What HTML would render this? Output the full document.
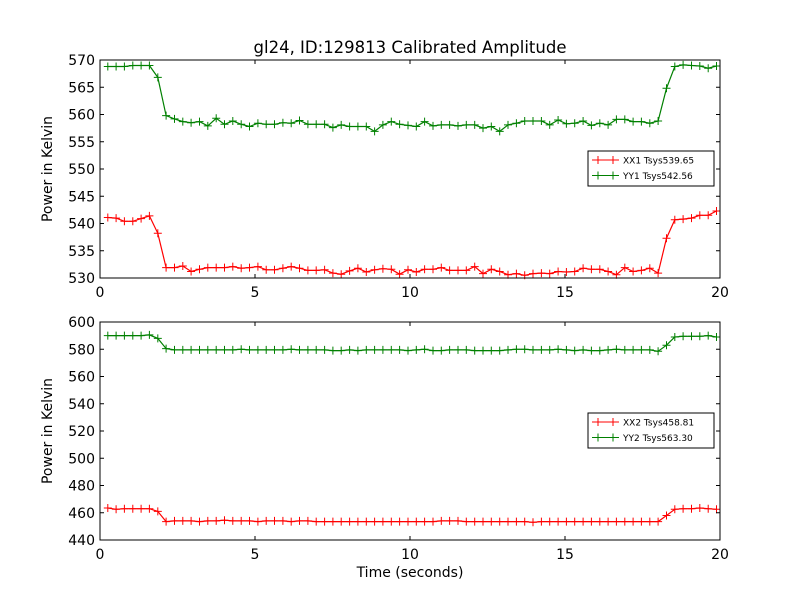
<!DOCTYPE html>
<html><head><meta charset="utf-8"><style>
html,body{margin:0;padding:0;background:#fff;}
svg{display:block;font-family:"DejaVu Sans","Liberation Sans",sans-serif;}
</style></head><body>
<svg id="chart" width="800" height="600" viewBox="0 0 800 600">
<rect x="0" y="0" width="800" height="600" fill="#fff"/>
<text x="410" y="53" text-anchor="middle" font-size="16.5">gl24, ID:129813 Calibrated Amplitude</text>
<g id="top"></g>
<g id="bot"></g>
<text x="410" y="577" text-anchor="middle" font-size="14">Time (seconds)</text>
</svg>
<script>
const xx1 = [541.1,541.0,540.4,540.4,540.9,541.4,538.2,531.9,531.9,532.2,531.2,531.6,531.9,531.9,531.9,532.1,531.8,531.9,532.1,531.5,531.5,531.8,532.1,531.8,531.4,531.4,531.5,530.9,530.7,531.3,531.8,531.1,531.5,531.7,531.6,530.7,
531.5,531.1,531.6,531.6,531.9,531.4,531.4,531.4,532.1,530.8,531.6,531.2,530.6,530.8,530.5,530.8,530.9,530.8,531.2,531.1,531.2,531.8,531.6,531.6,531.2,530.6,531.9,531.2,531.4,531.8,530.9,537.3,540.7,540.8,541.0,541.5,541.5,542.3];
const yy1 = [568.8,568.8,568.8,569.0,569.0,569.0,566.8,559.8,559.2,558.7,558.5,558.7,557.9,559.3,558.2,558.8,558.2,557.8,558.4,558.2,558.2,558.5,558.4,558.9,558.2,558.2,558.2,557.6,558.1,557.8,557.8,557.8,556.9,558.1,558.7,558.2,
558.0,557.8,558.7,557.9,558.1,558.1,557.9,558.1,558.1,557.5,557.8,556.9,558.1,558.4,558.8,558.8,558.8,558.1,559.0,558.3,558.4,558.8,558.0,558.4,558.1,559.1,559.1,558.7,558.7,558.4,558.8,564.8,568.8,569.1,569.0,568.9,568.5,568.9];
const xx2 = [463.5,462.5,463,463,463,463,461,453.5,454,454,454,453.5,454,454,454.5,454,454,454,453.5,454,454,454,453.5,454,454,453.5,453.5,453.5,453.5,453.5,453.5,453.5,453.5,453.5,453.5,453.5,453.5,453.5,453.5,453.5,454,454,454,453.5,453.5,453.5,453.5,453.5,453.5,453.5,453.5,453,453.5,453.5,453.5,453.5,453.5,453.5,453.5,453.5,453.5,453.5,453.5,453.5,453.5,453.5,453.5,458,462.5,463,463,463.5,463,462.5];
const yy2 = [590,590,590,590,590,590.5,588,580.5,579.5,579.5,579.5,579.5,579.5,579.5,579.5,579.5,580,579.5,579.5,579.5,579.5,579.5,580,579.5,579.5,579.5,579.5,579,579,579.5,579,579.5,579.5,579.5,579.5,579.5,579,579.5,580,579,579,579.5,579.5,579.5,579,579,579,579,579.5,580,580,579.5,579.5,579.5,580,579.5,579,579.5,579,579,579.5,580,579.5,579.5,579.5,579.5,578.5,583,589,589.5,589.5,589.5,590,589];
const xTicks = [0,5,10,15,20];
const topTicks = [530,535,540,545,550,555,560,565,570];
const botTicks = [440,460,480,500,520,540,560,580,600];
const legTop = ["XX1 Tsys539.65","YY1 Tsys542.56"];
const legBot = ["XX2 Tsys458.81","YY2 Tsys563.30"];
const t0 = 0.25, dt = 0.269;
const NS="http://www.w3.org/2000/svg";
function mk(tag, attrs, parent){const e=document.createElementNS(NS,tag);for(const k in attrs)e.setAttribute(k,attrs[k]);parent.appendChild(e);return e;}
function panel(g, top, bottom, ymin, ymax, yTicks, series, legend, ly){
  const L=100,R=720;
  const sx=t=>L+(t-0)/20*(R-L);
  const sy=v=>bottom-(v-ymin)/(ymax-ymin)*(bottom-top);
  series.forEach((s,si)=>{
    const col=si===0?"#ff0000":"#008000";
    let d="";
    s.forEach((v,i)=>{d+=(i?"L":"M")+sx(t0+i*dt).toFixed(1)+","+sy(v).toFixed(1);});
    const p=mk("path",{d:d,fill:"none",stroke:col,"stroke-width":1.2},g);
    
    
    let m="";
    s.forEach((v,i)=>{const x=sx(t0+i*dt),y=sy(v);m+=`M${(x-4).toFixed(1)},${y.toFixed(1)}h8M${x.toFixed(1)},${(y-4).toFixed(1)}v8`;});
    const mp=mk("path",{d:m,fill:"none",stroke:col,"stroke-width":1},g);
    
    
  });
  const fr=mk("rect",{x:L,y:top,width:R-L,height:bottom-top,fill:"none",stroke:"#000","stroke-width":1},g);
  
  
  xTicks.forEach(t=>{
    const x=sx(t);
    mk("path",{d:`M${x},${bottom}v-4M${x},${top}v4`,stroke:"#000"},g);
    const tx=mk("text",{x:x,y:bottom+19,"text-anchor":"middle","font-size":14},g);
    tx.textContent=t;
    
    
  });
  yTicks.forEach(v=>{
    const y=sy(v);
    mk("path",{d:`M${L},${y}h4M${R},${y}h-4`,stroke:"#000"},g);
    const tx=mk("text",{x:L-5,y:y+5,"text-anchor":"end","font-size":14},g);
    tx.textContent=v;
    
    
  });
  const yl=mk("text",{x:0,y:0,"text-anchor":"middle","font-size":14,transform:`translate(57,${(top+bottom)/2}) rotate(-90)`},g);
  yl.setAttribute('transform', `translate(52,${(top+bottom)/2}) rotate(-90)`);
  yl.textContent="Power in Kelvin";
  
  
  const lg=mk("g",{},g);
  
  
  mk("rect",{x:588,y:ly,width:126,height:35,fill:"#fff",stroke:"#000","stroke-width":1},lg);
  legend.forEach((s,i)=>{
    const col=i===0?"#ff0000":"#008000";
    const y=ly+9+i*15.5;
    mk("path",{d:`M592,${y}h27M594,${y}h8M598,${y-4}v8M609,${y}h8M613,${y-4}v8`,stroke:col,"stroke-width":1},lg);
    const tx=mk("text",{x:623,y:y+3.5,"font-size":9},lg);
    tx.textContent=s;
    
    
  });
}
panel(document.getElementById("top"),60,278,530,570,topTicks,[xx1,yy1],legTop,151);
panel(document.getElementById("bot"),322,540,440,600,botTicks,[xx2,yy2],legBot,413);
</script>
</body></html>
